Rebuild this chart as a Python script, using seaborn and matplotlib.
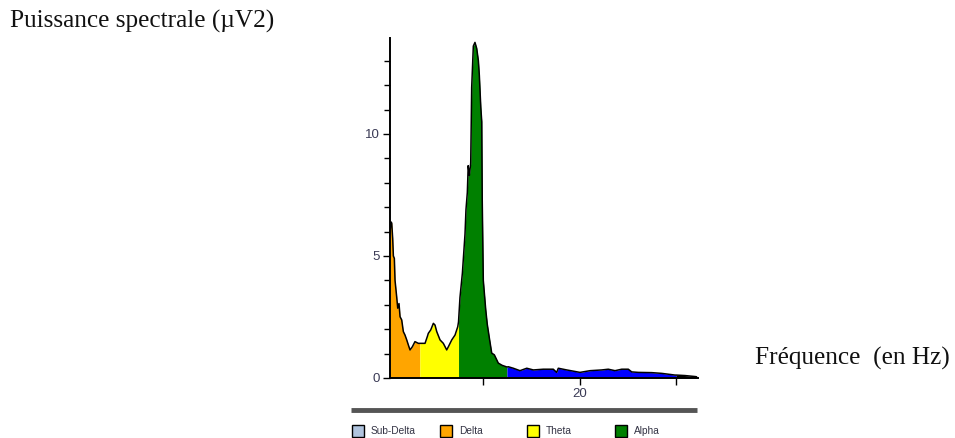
import numpy as np
import pandas as pd
import matplotlib
matplotlib.use("Agg")
import matplotlib.pyplot as plt
from matplotlib.patches import Rectangle
from matplotlib.lines import Line2D
import seaborn as sns

# ---- data ----
freq = [0.42, 0.5, 0.6, 0.7, 0.77, 0.87, 0.94, 1.11, 1.22, 1.35, 1.46, 1.63, 1.80, 1.97,
        2.15, 2.32, 2.49, 2.73, 3.0, 3.35, 3.5, 4.04, 4.28, 4.38, 4.63, 4.9, 5.07, 5.25,
        5.59, 5.93, 6.28, 6.45, 6.8, 7.14, 7.42, 7.5, 7.65, 7.9, 8.17, 8.27, 8.41, 8.5,
        8.62, 8.76, 8.86, 9.03, 9.2, 9.38, 9.55, 9.65, 9.8, 9.9, 9.95, 10.06, 10.31, 10.47,
        10.7, 10.93, 11.2, 11.61, 12.0, 12.5, 12.65, 13.16, 13.85, 14.55, 15.23, 16.26,
        17.29, 17.64, 17.81, 18.68, 20.05, 21.09, 22.3, 22.97, 23.67, 24.36, 25.04, 25.39,
        26.07, 27.46, 28.49, 29.87, 30.0, 30.9, 31.93, 32.1]
power = [5.9, 6.4, 6.35, 5.7, 5.0, 4.9, 4.0, 3.33, 2.86, 3.05, 2.51, 2.38, 1.90, 1.76,
         1.56, 1.35, 1.15, 1.28, 1.49, 1.42, 1.42, 1.42, 1.7, 1.83, 1.97, 2.24, 2.17, 1.90,
         1.56, 1.42, 1.15, 1.28, 1.56, 1.76, 2.1, 2.3, 3.3, 4.3, 5.9, 6.9, 7.6, 8.7,
         8.3, 8.8, 11.9, 13.6, 13.75, 13.5, 13.0, 12.4, 11.1, 10.5, 7.3, 4.0, 2.8, 2.2,
         1.6, 1.02, 0.95, 0.61, 0.52, 0.45, 0.46, 0.40, 0.30, 0.40, 0.33, 0.36,
         0.36, 0.23, 0.40, 0.33, 0.23, 0.30, 0.33, 0.36, 0.30, 0.36, 0.36, 0.25,
         0.23, 0.22, 0.19, 0.12, 0.12, 0.10, 0.06, 0.05]

band_names = ["Sub-Delta", "Delta", "Theta", "Alpha", "Beta", "Gamma"]
band_lo = [0.0, 0.42, 3.5, 7.5, 12.5, 30.0]
band_hi = [0.42, 3.5, 7.5, 12.5, 30.0, 32.1]
band_colors = ["#B0C4DE", "#FFA500", "#FFFF00", "#008000", "#0000FF", "#000000"]
legend_names = ["Sub-Delta", "Delta", "Theta", "Alpha"]

x_ticks = [10, 20, 30]
x_ticklabels = ["", "20", ""]
y_ticks = [0, 5, 10]

df = pd.DataFrame({"freq": freq, "power": power})

# ---- figure ----
sns.set_style("white")
plt.rcParams["font.family"] = ["Liberation Sans", "DejaVu Sans"]
W, H = 955, 438
fig = plt.figure(figsize=(W / 100, H / 100), dpi=100)

x0, x1 = 0.4, 32.2
y0, y1 = 0.0, 13.93
ax_left, ax_right = 389.8, 697.6
ax_bottom, ax_top = 378, 38
ax = fig.add_axes([ax_left / W, 1 - ax_bottom / H,
                   (ax_right - ax_left) / W, (ax_bottom - ax_top) / H])

f = np.asarray(freq)
p = np.asarray(power)
for lo, hi, col in zip(band_lo, band_hi, band_colors):
    m = (f >= lo) & (f <= hi)
    if m.sum() >= 2:
        ax.fill_between(f[m], 0, p[m], color=col, linewidth=0)

sns.lineplot(data=df, x="freq", y="power", ax=ax, color="black", linewidth=1.1,
             estimator=None, sort=False)

ax.set_xlim(x0, x1)
ax.set_ylim(y0, y1)
ax.set_xlabel("")
ax.set_ylabel("")
for s in ["top", "right"]:
    ax.spines[s].set_visible(False)
ax.spines["left"].set_linewidth(1.4)
ax.spines["bottom"].set_linewidth(1.4)
ax.spines["left"].set_color("black")
ax.spines["bottom"].set_color("black")

ax.set_xticks(x_ticks)
ax.set_xticklabels(x_ticklabels)
ax.set_yticks(y_ticks)
ax.set_yticks(np.arange(1, 14), minor=True)
ax.tick_params(axis="both", which="major", direction="out", length=5, width=1,
               color="black", labelsize=9.5, labelcolor="#3a3a55", pad=2,
               left=True, bottom=True)
ax.tick_params(axis="y", which="minor", direction="out", length=4, width=1,
               color="black", left=True)

# ---- titles ----
fig.text(10 / W, 1 - 10 / H, "Puissance spectrale (\u00b5V2)", family="Liberation Serif",
         fontsize=18.2, va="top", ha="left", color="#111111")
fig.text(755 / W, 1 - 347 / H, "Fr\u00e9quence  (en Hz)", family="Liberation Serif",
         fontsize=18.2, va="top", ha="left", color="#111111")

# ---- legend strip ----
fig.add_artist(Line2D([351 / W, 697 / W], [1 - 410 / H, 1 - 410 / H],
                      color="#555555", linewidth=3.5, solid_capstyle="butt"))
leg_x = [352, 440, 527, 615]
for name, lx in zip(legend_names, leg_x):
    col = band_colors[band_names.index(name)]
    fig.add_artist(Rectangle((lx / W, 1 - 437 / H), 12 / W, 12 / H,
                             facecolor=col, edgecolor="black", linewidth=1.0,
                             transform=fig.transFigure))
    fig.text((lx + 19) / W, 1 - 431 / H, name, fontsize=7.3, va="center", ha="left",
             color="#333344")

fig.savefig("out.png", dpi=100)
